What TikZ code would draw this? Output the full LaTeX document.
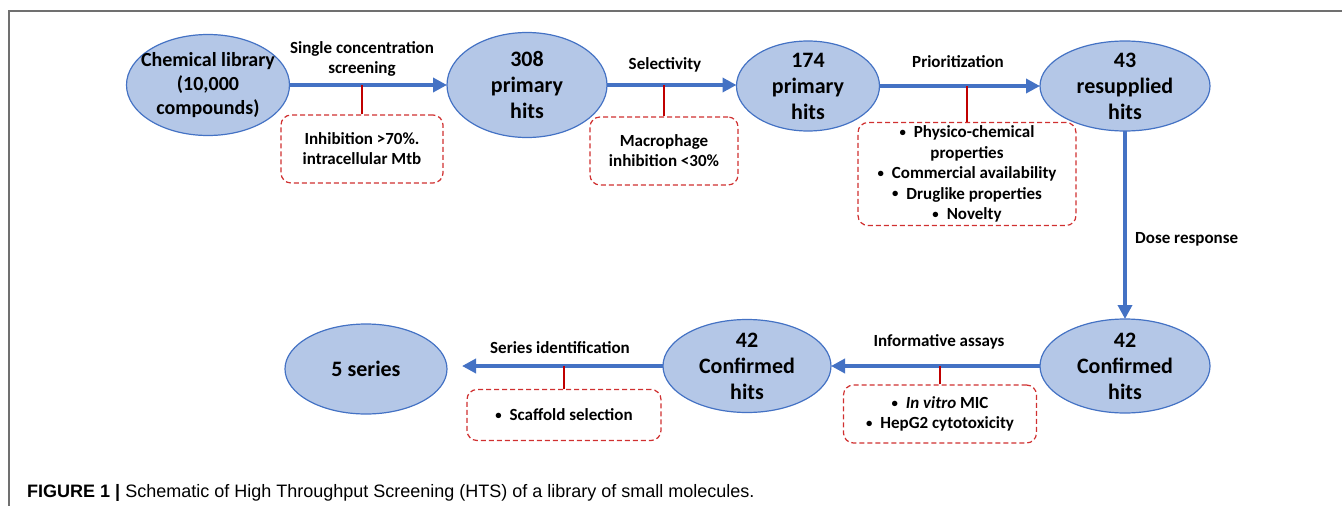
\documentclass[tikz,border=0pt]{standalone}
\usepackage{fontspec}
\setmainfont{Carlito}
\newfontfamily\capfont{Liberation Sans}
\usetikzlibrary{arrows.meta,shapes.geometric}

\definecolor{bluscuro}{HTML}{4472C4}
\definecolor{bluchiaro}{HTML}{B4C7E7}
\definecolor{rosso}{HTML}{C00000}
\definecolor{rossotratto}{HTML}{D03030}
\definecolor{grigio}{HTML}{707070}

\newcommand{\punto}{\raisebox{0.15ex}{\scalebox{0.75}{\textbullet}}\hspace{8pt}}

\tikzset{
  bolla/.style={ellipse, draw=bluscuro, fill=bluchiaro, line width=1.2pt,
    inner xsep=0pt, inner ysep=-6pt, outer sep=0pt, align=center,
    font=\bfseries\fontsize{22}{26}\selectfont},
  freccia/.style={bluscuro, line width=3.5pt, -{Triangle[length=14pt,width=14pt]}},
  asta/.style={rosso, line width=2.4pt},
  filtro/.style={draw=rossotratto, line width=1.2pt, dash pattern=on 5pt off 3pt,
    rounded corners=10pt, inner sep=0pt, align=center,
    font=\bfseries\fontsize{17}{20}\selectfont},
  etichetta/.style={inner sep=0pt, align=center, font=\bfseries\fontsize{17}{20}\selectfont},
  cornice/.style={grigio, line width=1.5pt}
}

\begin{document}
\begin{tikzpicture}[x=1pt,y=-1pt]

    % Cornice
    \useasboundingbox (0,0) rectangle (1342,506);
    \draw[cornice] (9,506) -- (9,11) -- (1342,11);

    % Ellissi
    \node[bolla, minimum width=163pt, minimum height=101pt, inner xsep=-10pt,
          font=\bfseries\fontsize{20}{24}\selectfont] (lib) at (208,85) {Chemical library\\(10,000\\compounds)};
    \node[bolla, minimum width=160pt, minimum height=105pt] (p308) at (527,85) {308\\primary\\hits};
    \node[bolla, minimum width=143pt, minimum height=90pt] (p174) at (808,86) {174\\primary\\hits};
    \node[bolla, minimum width=170pt, minimum height=90pt] (r43) at (1125,86) {43\\resupplied\\hits};
    \node[bolla, minimum width=170pt, minimum height=94pt] (c42b) at (1125,366) {42\\Confirmed\\hits};
    \node[bolla, minimum width=168pt, minimum height=93pt] (c42a) at (747,366) {42\\Confirmed\\hits};
    \node[bolla, minimum width=162pt, minimum height=90pt] (s5) at (366,369) {5 series};

    % Frecce
    \draw[freccia] (lib.east) -- (p308.west);
    \draw[freccia] (p308.east) -- (p308.east -| p174.west);
    \draw[freccia] (p174.east) -- (r43.west);
    \draw[freccia] (r43.south) -- (r43.south |- c42b.north);
    \draw[freccia] (c42b.west) -- (c42a.east);
    \draw[freccia, shorten >=15pt] (c42a.west) -- (c42a.west -| s5.east);

    % Etichette delle frecce
    \node[etichetta] (e1) at (362,59) {Single concentration\\screening};
    \node[etichetta, anchor=base] (e2) at (665,69) {Selectivity};
    \node[etichetta, anchor=base] (e3) at (958,67) {Prioritization};
    \node[etichetta, anchor=base west] (e4) at (1135,243) {Dose response};
    \node[etichetta, anchor=base] (e5) at (939,346) {Informative assays};
    \node[etichetta, anchor=base] (e6) at (560,353) {Series identification};

    % Criteri (riquadri tratteggiati)
    \node[filtro, minimum width=162pt, minimum height=68pt] (f1) at (362,149)
        {Inhibition >70\%.\\intracellular Mtb};
    \node[filtro, minimum width=148pt, minimum height=68pt] (f2) at (664,151)
        {Macrophage\\inhibition <30\%};
    \node[filtro, minimum width=218pt, minimum height=103pt,
          font=\bfseries\fontsize{17}{20.5}\selectfont] (f3) at (967,174)
        {\punto Physico-chemical\\properties\\\punto Commercial availability\\
         \punto Druglike properties\\\punto Novelty};
    \node[filtro, minimum width=193pt, minimum height=58pt] (f4) at (940,414)
        {\punto\textit{In vitro} MIC\\\punto HepG2 cytotoxicity};
    \node[filtro, minimum width=194pt, minimum height=51pt] (f5) at (564,415)
        {\punto Scaffold selection};

    % Aste rosse
    \foreach \f/\n in {f1/lib,f2/p308,f3/p174,f4/c42b,f5/c42a} {
        \draw[asta] (\f.north) -- (\f.north |- \n.east);
    }

    % Didascalia
    \node[anchor=base west, inner sep=0pt, font=\capfont\fontsize{18}{20}\selectfont] (didascalia) at (27,497)
        {\textbf{FIGURE 1 |} Schematic of High Throughput Screening (HTS) of a library of small molecules.};

\end{tikzpicture}
\end{document}
